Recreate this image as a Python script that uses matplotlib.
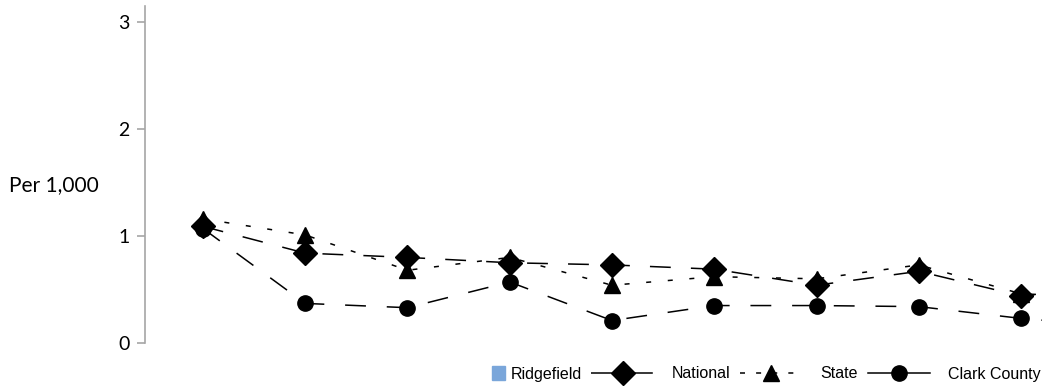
import numpy as np
import matplotlib
matplotlib.use("Agg")
import matplotlib.pyplot as plt
from matplotlib.lines import Line2D
from matplotlib.patches import Patch, Rectangle
from matplotlib.legend_handler import HandlerPatch

plt.rcParams['lines.scale_dashes'] = False

# Data (rate per 1,000); x labels are not shown in the chart
periods = ["P1", "P2", "P3", "P4", "P5", "P6", "P7", "P8", "P9", "P10"]
national = [1.09, 0.84, 0.80, 0.75, 0.73, 0.69, 0.54, 0.67, 0.44, 0.50]
state = [1.16, 1.01, 0.68, 0.80, 0.54, 0.62, 0.60, 0.73, 0.46, 0.42]
clark_county = [1.07, 0.37, 0.33, 0.57, 0.21, 0.35, 0.35, 0.34, 0.23, 0.15]
ridgefield = [np.nan] * len(periods)

yticks = [0, 1, 2, 3]
ridgefield_color = '#7aa6da'
axis_grey = '#a6a6a6'

fig = plt.figure(figsize=(10.42, 3.86), dpi=100)
ax = fig.add_axes([145 / 1042, 43 / 386, 897 / 1042, 337 / 386])

x = np.arange(len(periods))

ax.bar(x, ridgefield, color=ridgefield_color)
ax.plot(x, national, color='black', lw=1.1, dashes=(15, 14.5),
        marker='D', ms=12, label='National')
ax.plot(x, state, color='black', lw=1.1, dashes=(3.6, 12),
        marker='^', ms=11, label='State')
ax.plot(x, clark_county, color='black', lw=1.1, dashes=(15, 15),
        marker='o', ms=11, label='Clark County')

ax.set_xlim(-0.567, 8.205)
ax.set_ylim(0, 3.15)
ax.set_yticks(yticks)
ax.set_xticks([])

for side in ['top', 'right', 'bottom']:
    ax.spines[side].set_visible(False)
ax.spines['left'].set_color(axis_grey)
ax.spines['left'].set_linewidth(1.2)
ax.tick_params(axis='y', direction='out', length=6, width=1.2, color=axis_grey,
               pad=5, labelsize=14, labelcolor='black')
for lbl in ax.get_yticklabels():
    lbl.set_fontfamily('Lato')

fig.text(9 / 1042, 1 - 185 / 386, "Per 1,000", fontsize=15, family='Lato',
         ha='left', va='center')


def square_right(legend, orig_handle, xdescent, ydescent, width, height, fontsize):
    # small square sitting close to its label, like the original
    s = 9.5
    return Rectangle((-xdescent + width - s + 9, -ydescent + (height - s) / 2), s, s)


handles = [
    Patch(color=ridgefield_color, label='Ridgefield'),
    Line2D([], [], color='black', lw=1.1, dashes=(15, 14.5), marker='D', ms=12,
           label='National'),
    Line2D([], [], color='black', lw=1.1, dashes=(3.6, 8), marker='^', ms=11,
           label='State'),
    Line2D([], [], color='black', lw=1.1, marker='o', ms=11, label='Clark County'),
]
leg = fig.legend(handles=handles, ncol=4, loc='center right',
                 bbox_to_anchor=(1041 / 1042, 1 - 374 / 386),
                 frameon=False, prop={'family': 'Liberation Sans', 'size': 11.5},
                 handlelength=3.9, handletextpad=1.13, columnspacing=0.62,
                 borderpad=0, borderaxespad=0,
                 handler_map={Patch: HandlerPatch(patch_func=square_right)})

fig.savefig('out.png', dpi=100)
